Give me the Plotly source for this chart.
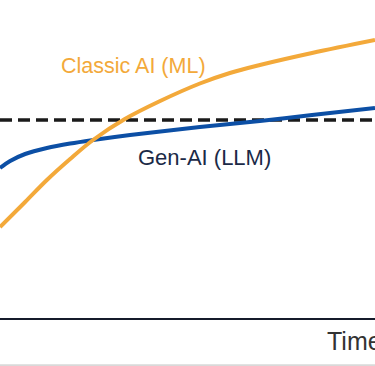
import plotly.graph_objects as go

# Time (0-100) and performance values
classic_t = [0, 6.7, 12.5, 18.7, 24.8, 33.3, 42.7, 53.3, 61.3, 69.3, 83.2, 100]
classic_p = [46, 58.5, 69.5, 80, 89.5, 100, 109, 117.75, 123, 127, 133, 139.5]

genai_t = [0, 2.7, 6.7, 12.5, 18.7, 24.8, 34.7, 53.3, 69.3, 83.2, 100]
genai_p = [75.5, 79, 82.5, 85.5, 87.75, 89.5, 92, 96, 99, 102, 105.5]

threshold = 99.5
labels = {"classic": "Classic AI (ML)", "genai": "Gen-AI (LLM)", "x": "Time"}

ORANGE = "#F3A93A"
BLUE = "#0C4FA5"
NAVY = "#1B2A47"
FONT = "Liberation Sans, Arial, sans-serif"

fig = go.Figure()
fig.add_trace(go.Scatter(x=[0, 100], y=[threshold, threshold], mode="lines",
                         line=dict(color="#1a1a1a", width=3.5, dash="12px,6px"),
                         hoverinfo="skip"))
fig.add_trace(go.Scatter(x=genai_t, y=genai_p, mode="lines",
                         line=dict(color=BLUE, width=4, shape="spline", smoothing=1.0),
                         hoverinfo="skip"))
fig.add_trace(go.Scatter(x=classic_t, y=classic_p, mode="lines",
                         line=dict(color=ORANGE, width=4, shape="spline", smoothing=1.0),
                         hoverinfo="skip"))

# x-axis baseline
fig.add_shape(type="line", x0=0, x1=100, y0=0, y1=0, xref="x", yref="y",
              line=dict(color="#151b2b", width=2))
# light bottom border
fig.add_shape(type="line", x0=0, x1=1, y0=0.002, y1=0.002, xref="paper", yref="paper",
              line=dict(color="#d9d9d9", width=2))

fig.add_annotation(x=35.7, y=126.5, text=labels["classic"], showarrow=False,
                   xanchor="center", yanchor="middle",
                   font=dict(family=FONT, size=21.5, color=ORANGE))
fig.add_annotation(x=54.5, y=81, text=labels["genai"], showarrow=False,
                   xanchor="center", yanchor="middle",
                   font=dict(family=FONT, size=22, color=NAVY))
fig.add_annotation(x=86.7, y=-11, text=labels["x"], showarrow=False,
                   xanchor="left", yanchor="middle",
                   font=dict(family=FONT, size=25, color="#333333"))

fig.update_layout(
    width=375, height=366,
    margin=dict(l=0, r=0, t=0, b=0),
    paper_bgcolor="white", plot_bgcolor="white",
    showlegend=False,
    xaxis=dict(range=[0, 100], visible=False, fixedrange=True),
    yaxis=dict(range=[-23.5, 159.5], visible=False, fixedrange=True),
)

fig.write_html("out.html", config={"displayModeBar": False},
               post_script="document.body.style.margin='0';document.body.style.overflow='hidden';")
